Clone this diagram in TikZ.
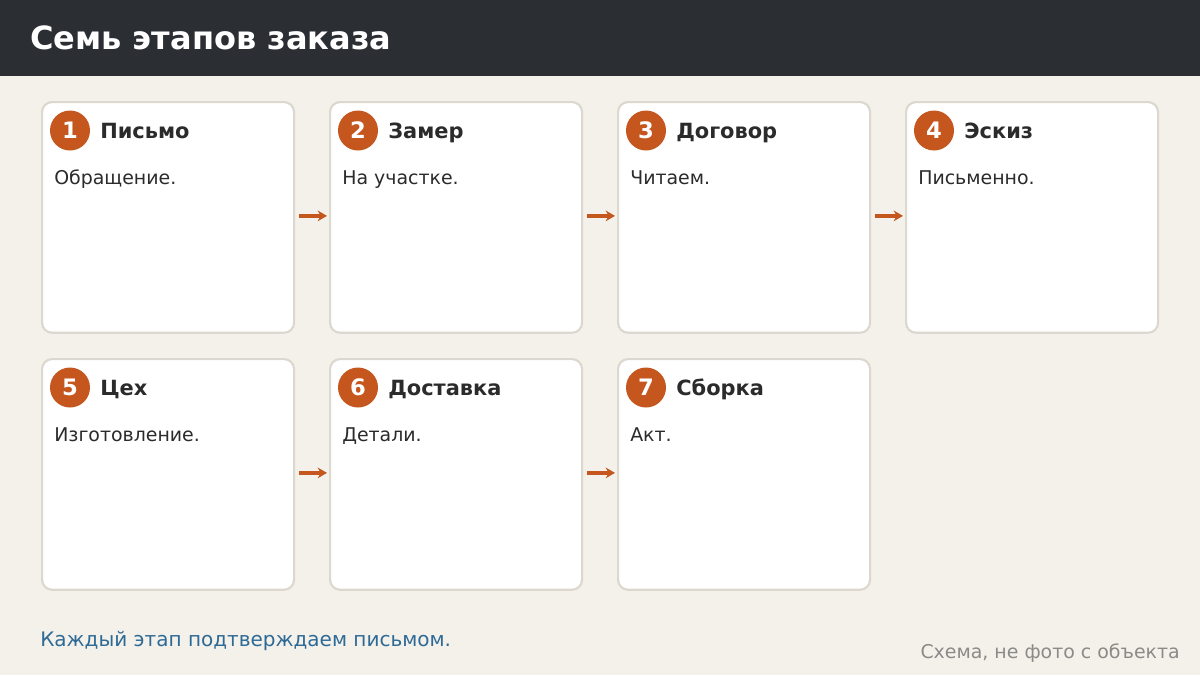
\documentclass[tikz,border=0pt]{standalone}
\usepackage{fontspec}
\setmainfont{DejaVu Sans}
\usetikzlibrary{arrows.meta,calc}
\definecolor{bg}{HTML}{F4F1EA}
\definecolor{hdr}{HTML}{2B2E33}
\definecolor{accent}{HTML}{C4561E}
\definecolor{cardline}{HTML}{DDD8CF}
\definecolor{ink}{HTML}{2B2B2B}
\definecolor{note}{HTML}{2E6A96}
\definecolor{muted}{HTML}{8A8A88}
\tikzset{
  card/.style={draw=cardline, line width=1.6pt, fill=white, rounded corners=7.5pt, minimum width=189pt, minimum height=173pt, inner sep=0pt, anchor=north west},
  badge/.style={circle, fill=accent, minimum size=30pt, inner sep=0pt, text=white, font=\bfseries\fontsize{17}{18}\selectfont},
  stitle/.style={anchor=base west, text=ink, font=\bfseries\fontsize{15.7}{17}\selectfont, inner sep=0pt},
  sdesc/.style={anchor=base west, text=ink, font=\fontsize{14.2}{16}\selectfont, inner sep=0pt},
  flow/.style={draw=accent, line width=2.4pt, -{Stealth[length=7pt,width=8pt]}},
}
\begin{document}
\begin{tikzpicture}[x=0.75pt, y=-0.75pt]
\useasboundingbox (0,0) rectangle (1200,675);
\fill[bg] (0,0) rectangle (1200,675);
\fill[hdr] (0,0) rectangle (1200,76);
\node[anchor=base west, text=white, font=\bfseries\fontsize{24}{26}\selectfont, inner sep=0pt] (title) at (30,49) {Семь этапов заказа};

\foreach \n/\x/\y/\t/\d in {1/41/101/Письмо/Обращение., 2/329/101/Замер/На участке., 3/617/101/Договор/Читаем., 4/905/101/Эскиз/Письменно., 5/41/358/Цех/Изготовление., 6/329/358/Доставка/Детали., 7/617/358/Сборка/Акт.}{
  \node[card] (c\n) at (\x,\y) {};
  \node[badge] (b\n) at ($(\x,\y)+(29,29.5)$) {\n};
  \node[stitle] (t\n) at ($(\x,\y)+(59,37.5)$) {\t};
  \node[sdesc] (d\n) at ($(\x,\y)+(13,83.5)$) {\d};
}
\foreach \a/\b in {1/2,2/3,3/4,5/6,6/7}{
  \draw[flow] ($(c\a.east)+(4,-1.5)$) -- ($(c\b.west)+(-2,-1.5)$);
}
\node[anchor=base west, text=note, font=\fontsize{15}{17}\selectfont, inner sep=0pt] (foot) at (40,646) {Каждый этап подтверждаем письмом.};
\node[anchor=base east, text=muted, font=\fontsize{14.2}{16}\selectfont, inner sep=0pt] (credit) at (1180,658) {Схема, не фото с объекта};
\end{tikzpicture}
\end{document}
